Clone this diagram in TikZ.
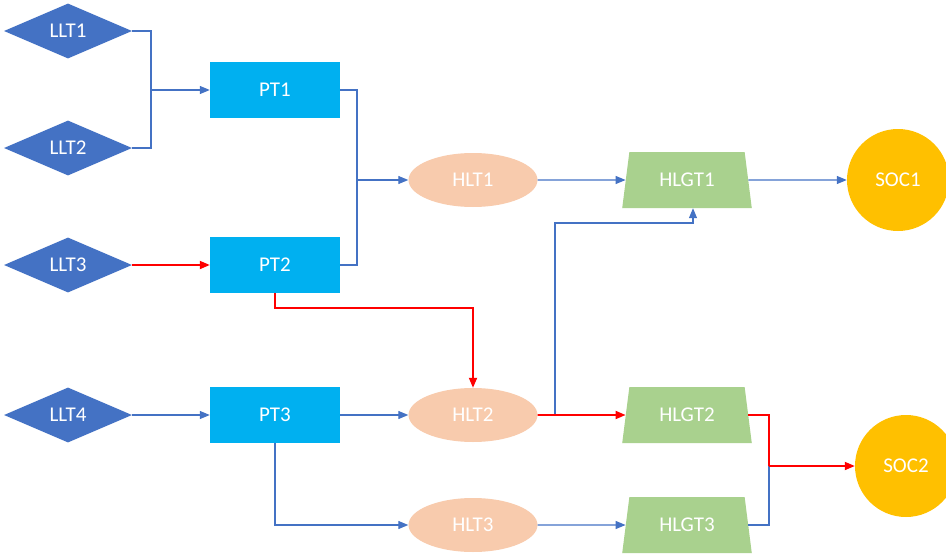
\documentclass[tikz,border=0pt]{standalone}
\usepackage{fontspec}
\setmainfont{Carlito}
\usetikzlibrary{positioning}
\usetikzlibrary{shapes.geometric}
\usetikzlibrary{arrows.meta}
\definecolor{lltblue}{HTML}{4472C4}
\definecolor{ptcyan}{HTML}{00B0F0}
\definecolor{hltpeach}{HTML}{F8CBAD}
\definecolor{hlgtgreen}{HTML}{A9D18E}
\definecolor{socgold}{HTML}{FFC000}
\tikzset{
    llt/.style={diamond, fill=lltblue, minimum width=128pt, minimum height=55pt, inner sep=0pt, text=white},
    pt/.style={rectangle, fill=ptcyan, minimum width=130pt, minimum height=56pt, inner sep=0pt, text=white},
    hlt/.style={ellipse, fill=hltpeach, minimum width=129pt, minimum height=54pt, inner sep=0pt, text=white},
    hlgt/.style={trapezium, trapezium left angle=76, trapezium right angle=76, trapezium stretches=true, fill=hlgtgreen, minimum width=130pt, minimum height=56pt, inner sep=0pt, text=white},
    soc/.style={circle, fill=socgold, minimum size=102pt, inner sep=0pt, text=white},
    blueline/.style={draw=lltblue, line width=1.2pt},
    redline/.style={draw=red, line width=1.8pt},
    tip/.style={-{Triangle[length=10pt,width=8pt]}}
}

\begin{document}
\begin{tikzpicture}[x=1pt, y=-1pt, every node/.style={font=\fontsize{21}{24}\selectfont}]
                \useasboundingbox (0,0) rectangle (946,554);

                % Low level tasks
                \node[llt] (LLT1) at (68, 31) {LLT1};
                \node[llt] (LLT2) at (68, 148) {LLT2};
                \node[llt] (LLT3) at (68, 265) {LLT3};
                \node[llt] (LLT4) at (68, 415) {LLT4};

                % Processing tasks
                \node[pt] (PT1) at (275, 90) {PT1};
                \node[pt] (PT2) at (275, 265) {PT2};
                \node[pt] (PT3) at (275, 415) {PT3};

                % High level tasks
                \node[hlt] (HLT1) at (473, 180) {HLT1};
                \node[hlt] (HLT2) at (473, 415) {HLT2};
                \node[hlt] (HLT3) at (473, 525) {HLT3};

                % High level goal tasks
                \node[hlgt] (HLGT1) at (687, 180) {HLGT1};
                \node[hlgt] (HLGT2) at (687, 415) {HLGT2};
                \node[hlgt] (HLGT3) at (687, 525) {HLGT3};

                % Goals
                \node[soc] (SOC1) at (898, 180) {SOC1};
                \node[soc] (SOC2) at (906, 466) {SOC2};

                % Junctions
                \coordinate (j1) at (151, 90);
                \coordinate (j2) at (357, 180);
                \coordinate (j3) at (555, 415);
                \coordinate (j4) at (693, 223);
                \coordinate (j5) at (769, 466);

                % Blue connectors
                \draw[blueline] (LLT1.east) -| (j1) |- (LLT2.east);
                \draw[blueline, tip] (j1) -- (PT1.west);
                \draw[blueline] (PT1.east) -| (j2) |- (PT2.east);
                \draw[blueline, tip] (j2) -- (HLT1.west);
                \draw[blueline, tip] (HLT1.east) -- (HLGT1.west);
                \draw[blueline, tip] (HLGT1.east) -- (SOC1.west);
                \draw[blueline, tip] (LLT4.east) -- (PT3.west);
                \draw[blueline, tip] (PT3.east) -- (HLT2.west);
                \draw[blueline, tip] (PT3.south) |- (HLT3.west);
                \draw[blueline, tip] (HLT3.east) -- (HLGT3.west);
                \draw[blueline, tip] (j3) |- (j4) -- (j4 |- HLGT1.south);
                \draw[blueline] (HLGT3.east) -| (j5);

                % Red connectors
                \draw[redline, tip] (LLT3.east) -- (PT2.west);
                \draw[redline, tip] (PT2.south) -- ++(0, 15) -| (HLT2.north);
                \draw[redline, tip] (HLT2.east) -- (HLGT2.west);
                \draw[redline] (HLGT2.east) -| (j5);
                \draw[redline, tip] (j5) -- (SOC2.west);
\end{tikzpicture}
\end{document}
